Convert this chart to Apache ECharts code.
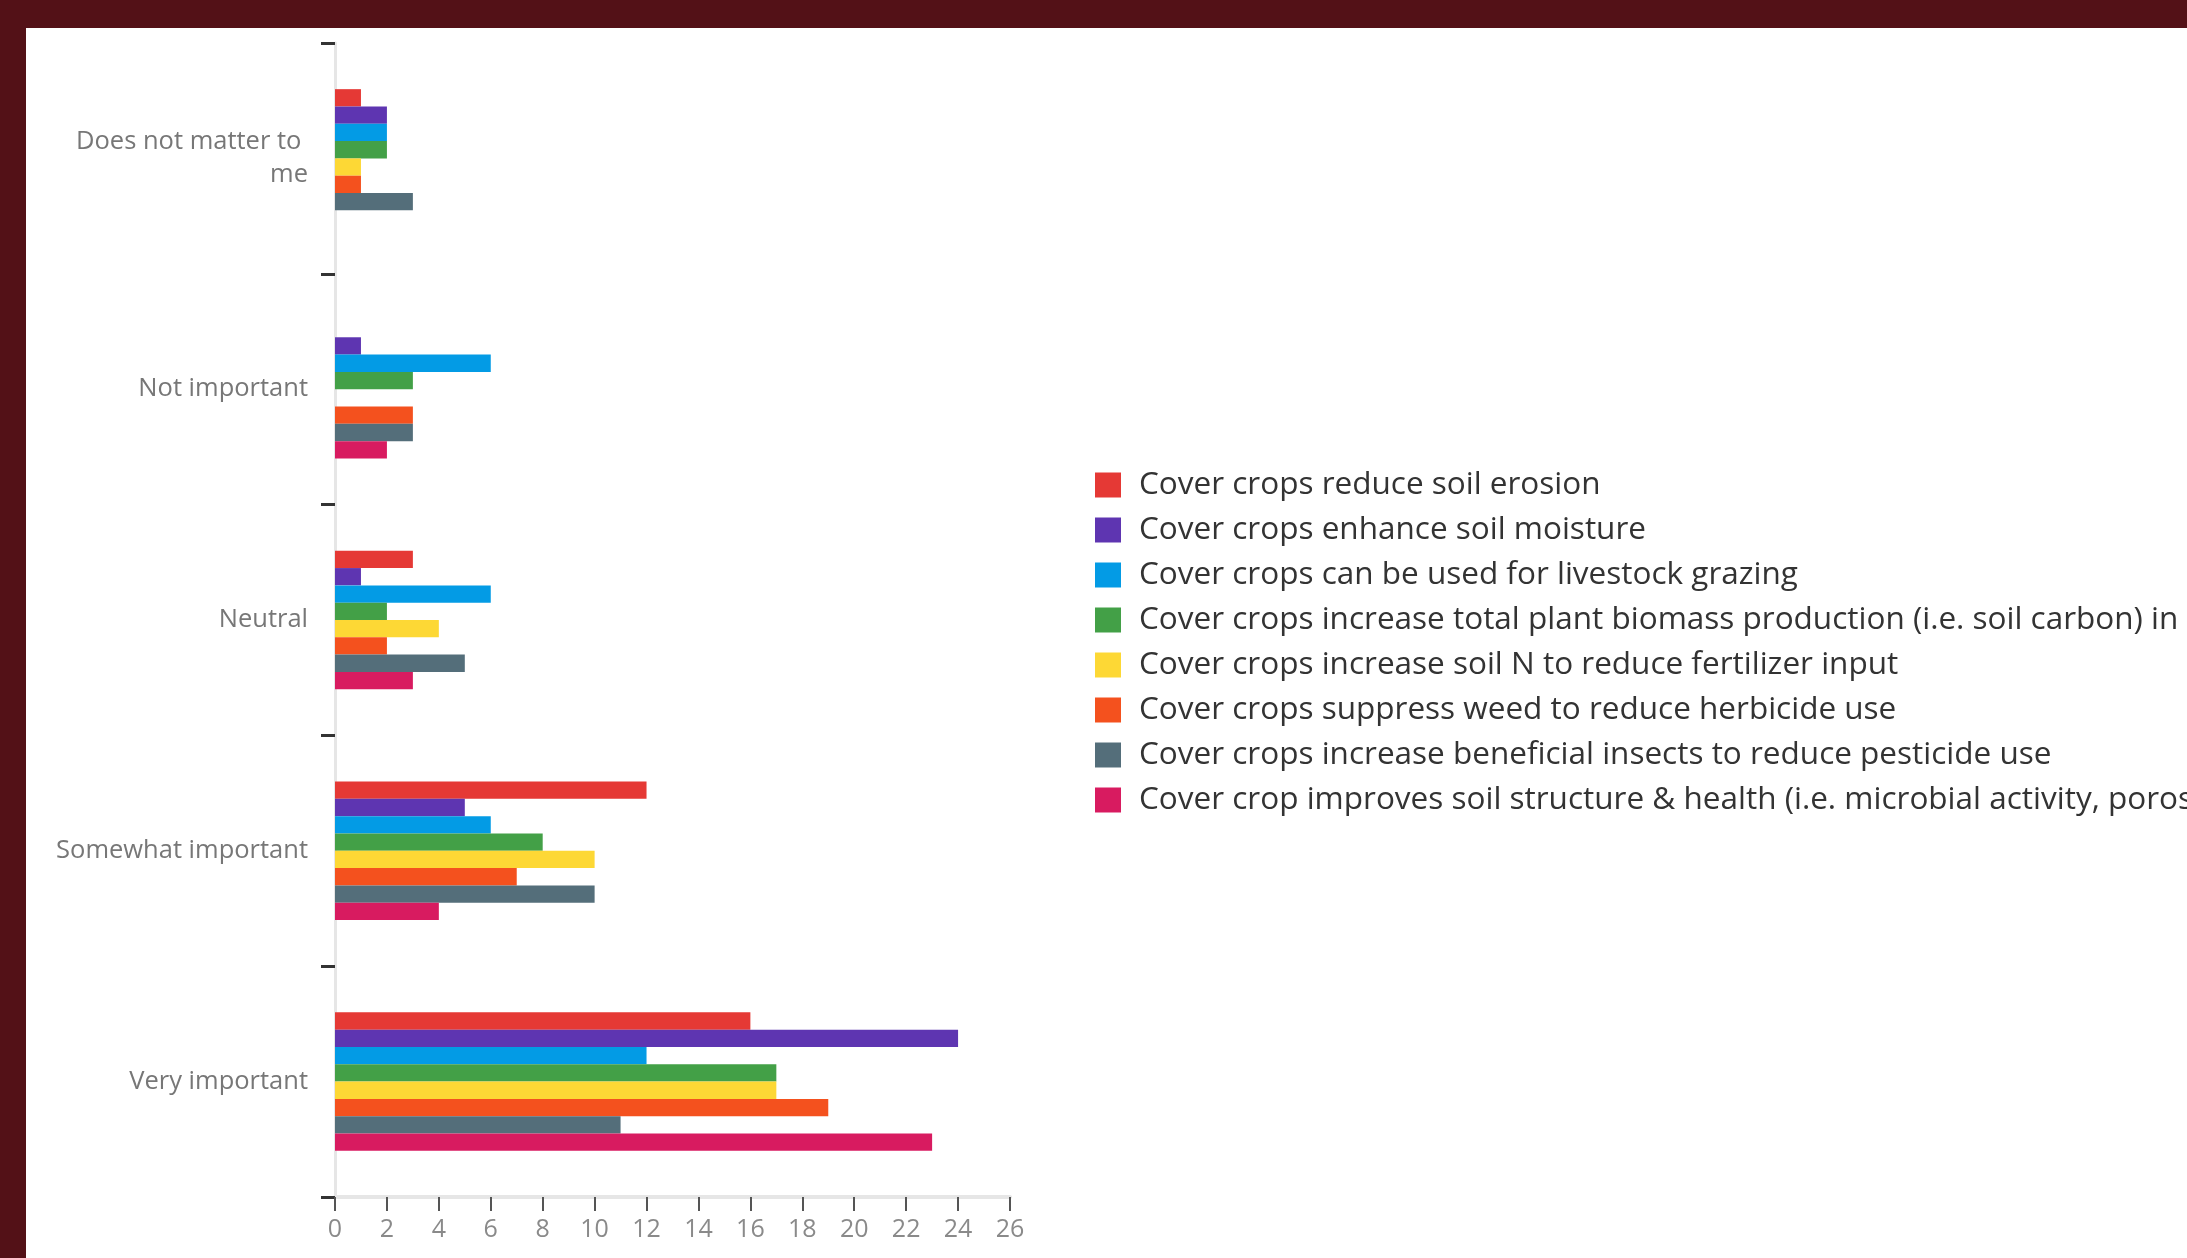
<!DOCTYPE html>
<html>
<head>
<meta charset="utf-8">
<script src="https://cdn.jsdelivr.net/npm/echarts@6/dist/echarts.min.js"></script>
<style>
html,body{margin:0;padding:0;background:#531117;}
#chart{width:2187px;height:1258px;}
</style>
</head>
<body>
<div id="chart"></div>
<script>
const categories = ["Does not matter to me", "Not important", "Neutral", "Somewhat important", "Very important"];
const seriesNames = [
  "Cover crops reduce soil erosion",
  "Cover crops enhance soil moisture",
  "Cover crops can be used for livestock grazing",
  "Cover crops increase total plant biomass production (i.e. soil carbon) in soil",
  "Cover crops increase soil N to reduce fertilizer input",
  "Cover crops suppress weed to reduce herbicide use",
  "Cover crops increase beneficial insects to reduce pesticide use",
  "Cover crop improves soil structure & health (i.e. microbial activity, porosity)"
];
const erosion    = [1, 0, 3, 12, 16];
const moisture   = [2, 1, 1, 5, 24];
const grazing    = [2, 6, 6, 6, 12];
const biomass    = [2, 3, 2, 8, 17];
const nitrogen   = [1, 0, 4, 10, 17];
const weed       = [1, 3, 2, 7, 19];
const insects    = [3, 3, 5, 10, 11];
const structure  = [0, 2, 3, 4, 23];
const seriesValues = [erosion, moisture, grazing, biomass, nitrogen, weed, insects, structure];
const colors = ["#E53935", "#5E35B1", "#039BE5", "#43A047", "#FDD835", "#F4511E", "#546E7A", "#D81B60"];
const xTicks = { min: 0, max: 26, interval: 2 };

const chart = echarts.init(document.getElementById('chart'), null, { renderer: 'canvas' });
const option = {
  backgroundColor: '#531117',
  animation: false,
  color: colors,
  graphic: [{
    type: 'rect', z: -10, silent: true,
    shape: { x: 26, y: 28, width: 2161, height: 1230 },
    style: { fill: '#ffffff' }
  }],
  grid: { left: 335, top: 43, width: 675, height: 1154, containLabel: false },
  legend: {
    orient: 'vertical',
    left: 1090,
    top: 464,
    itemWidth: 26,
    itemHeight: 25,
    itemGap: 13,
    icon: 'rect',
    textStyle: {
      fontFamily: 'Open Sans',
      fontSize: 31.5,
      color: '#333333',
      lineHeight: 25,
      padding: [0, 0, 0, 13]
    },
    data: seriesNames
  },
  xAxis: {
    type: 'value',
    min: xTicks.min, max: xTicks.max, interval: xTicks.interval,
    axisLine: { show: true, lineStyle: { color: '#e6e6e6', width: 4 } },
    axisTick: { show: true, length: 14, lineStyle: { color: '#555555', width: 2 } },
    splitLine: { show: false },
    axisLabel: { color: '#8a8a8a', fontSize: 25, fontFamily: 'Open Sans', margin: 20 }
  },
  yAxis: {
    type: 'category',
    inverse: true,
    data: categories,
    axisLine: { show: true, lineStyle: { color: '#e6e6e6', width: 3 } },
    axisTick: { show: true, length: 14, lineStyle: { color: '#333333', width: 3 } },
    axisLabel: {
      color: '#777777', fontSize: 25.5, fontFamily: 'Open Sans', margin: 27,
      width: 258, overflow: 'break', lineHeight: 33, align: 'right'
    }
  },
  series: seriesNames.map((name, i) => ({
    name: name,
    type: 'bar',
    data: seriesValues[i],
    barGap: '0%',
    barCategoryGap: '40%'
  }))
};
chart.setOption(option);
</script>
</body>
</html>
